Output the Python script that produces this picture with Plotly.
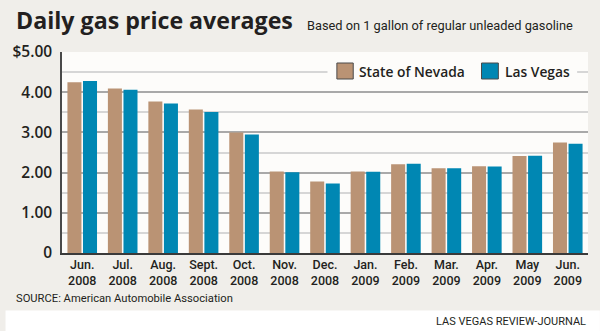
import plotly.graph_objects as go

# Monthly average price of one gallon of regular unleaded gasoline
months = ["Jun.<br>2008", "Jul.<br>2008", "Aug.<br>2008", "Sept.<br>2008", "Oct.<br>2008",
          "Nov.<br>2008", "Dec.<br>2008", "Jan.<br>2009", "Feb.<br>2009", "Mar.<br>2009",
          "Apr.<br>2009", "May<br>2009", "Jun.<br>2009"]
nevada = [4.25, 4.09, 3.77, 3.57, 3.00, 2.03, 1.78, 2.03, 2.21, 2.11, 2.16, 2.41, 2.75]
las_vegas = [4.28, 4.06, 3.72, 3.51, 2.95, 2.01, 1.73, 2.02, 2.22, 2.11, 2.15, 2.42, 2.72]

series_names = ["State of Nevada", "Las Vegas"]
y_tick_vals = [0, 1, 2, 3, 4, 5]
y_tick_text = ["0", "1.00", "2.00", "3.00", "4.00", "$5.00"]

TAN = "#ba9374"
BLUE = "#0087b3"
INK = "#231f20"
BG = "#f0eeea"
PLOT_BG = "#fdfcfa"
NARROW = "Roboto, Liberation Sans, sans-serif"
WIDE = "Open Sans, Noto Sans, sans-serif"

W, H = 600, 331
L, R, T, B = 57, 12, 52, 78
PW, PH = W - L - R, H - T - B


def px(x):
    return (x - L) / PW


def py(y):
    return (H - B - y) / PH


fig = go.Figure()
fig.add_trace(go.Bar(x=months, y=nevada, name=series_names[0],
                     marker=dict(color=TAN, line=dict(width=0))))
fig.add_trace(go.Bar(x=months, y=las_vegas, name=series_names[1],
                     marker=dict(color=BLUE, line=dict(width=0))))

shapes = [
    # white strip under the panel for the credit line
    dict(type="rect", xref="paper", yref="paper", x0=px(0), x1=px(W), y0=py(H), y1=py(310.5),
         fillcolor="white", line=dict(width=0), layer="below"),
    # legend backdrop, hides the gridline behind it
    dict(type="rect", xref="paper", yref="paper", x0=px(325), x1=px(577), y0=py(83), y1=py(61),
         fillcolor=PLOT_BG, line=dict(width=0), layer="above"),
    dict(type="rect", xref="paper", yref="paper", x0=px(334.5), x1=px(351), y0=py(79), y1=py(63),
         fillcolor=TAN, line=dict(color="#4a4a4a", width=1), layer="above"),
    dict(type="rect", xref="paper", yref="paper", x0=px(480.5), x1=px(497.5), y0=py(79), y1=py(63),
         fillcolor=BLUE, line=dict(color="#4a4a4a", width=1), layer="above"),
]

annotations = [
    dict(text="<b>Daily gas price averages</b>", x=px(9), y=py(20), xref="paper", yref="paper",
         xanchor="left", yanchor="middle", showarrow=False,
         font=dict(family=WIDE, size=23.2, color=INK)),
    dict(text="Based on 1 gallon of regular unleaded gasoline", x=px(302), y=py(25.5),
         xref="paper", yref="paper", xanchor="left", yanchor="middle", showarrow=False,
         font=dict(family=NARROW, size=12.8, color=INK)),
    dict(text=series_names[0], x=px(355), y=py(71.3), xref="paper", yref="paper",
         xanchor="left", yanchor="middle", showarrow=False,
         font=dict(family=WIDE, size=13.8, color=INK, weight=600)),
    dict(text=series_names[1], x=px(502), y=py(71.3), xref="paper", yref="paper",
         xanchor="left", yanchor="middle", showarrow=False,
         font=dict(family=WIDE, size=13.8, color=INK, weight=600)),
    dict(text="SOURCE: American Automobile Association", x=px(9), y=py(298),
         xref="paper", yref="paper", xanchor="left", yanchor="middle", showarrow=False,
         font=dict(family=NARROW, size=11.2, color=INK)),
    dict(text="LAS VEGAS REVIEW-JOURNAL", x=px(588), y=py(321.5),
         xref="paper", yref="paper", xanchor="right", yanchor="middle", showarrow=False,
         font=dict(family=NARROW, size=11, color=INK)),
]

fig.update_layout(
    width=W, height=H,
    margin=dict(l=L, r=R, t=T, b=B, pad=0),
    paper_bgcolor=BG, plot_bgcolor=PLOT_BG,
    barmode="group", bargap=0.23, bargroupgap=0.1,
    showlegend=False,
    shapes=shapes, annotations=annotations,
    xaxis=dict(
        type="category", showgrid=False, zeroline=False,
        showline=True, linecolor="#3a3a3a", linewidth=2,
        ticks="", ticklabelstandoff=-1,
        tickfont=dict(family=NARROW, size=12.5, color=INK, weight=500),
        range=[-0.5, len(months) - 0.5], fixedrange=True,
    ),
    yaxis=dict(
        range=[0, 5], tickvals=y_tick_vals, ticktext=y_tick_text,
        showgrid=True, gridcolor="#a9a9a9", gridwidth=1.5,
        minor=dict(dtick=0.5, showgrid=True, gridcolor="#d6d6d6", gridwidth=1.5),
        zeroline=False, showline=True, linecolor="#4a4a4a", linewidth=1.5,
        ticks="", ticklabelstandoff=5,
        tickfont=dict(family=WIDE, size=15.5, color=INK, weight=600),
        fixedrange=True,
    ),
)

fig.write_html("out.html")
